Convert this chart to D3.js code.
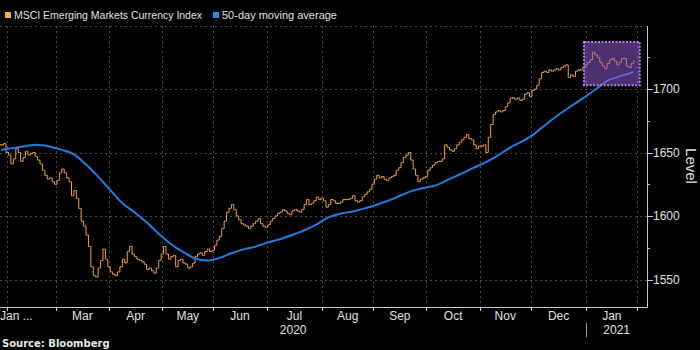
<!DOCTYPE html>
<html><head><meta charset="utf-8">
<script src="https://cdn.jsdelivr.net/npm/d3@7"></script>
<style>html,body{margin:0;padding:0;background:#000;}svg{display:block;}</style>
</head><body>
<svg id="chart" width="700" height="350"></svg>
<script>
// ---- data ----
const firstDay = "2020-01-29";           // first trading day shown
const slotCount = 267;                   // trading-day slots on the axis (through 2021-02-04)
const closes = [
1656,1657,1650,1648,1641,1645,1653,1650,1643,1646,
1651,1648,1649,1650,1647,1644,1641,1636,1632,1629,
1630,1627,1625,1628,1634,1637,1634,1630,1627,1616,
1620,1614,1606,1596,1592,1585,1576,1560,1553,1552,
1559,1565,1574,1566,1560,1556,1554,1553,1556,1560,
1566,1563,1572,1576,1570,1568,1566,1565,1564,1562,
1558,1559,1557,1555,1559,1565,1570,1576,1570,1566,
1568,1569,1560,1565,1566,1563,1562,1559,1560,1563,
1568,1570,1571,1569,1572,1574,1572,1573,1577,1581,
1584,1590,1596,1603,1606,1609,1605,1600,1597,1594,
1593,1592,1590,1592,1594,1596,1598,1594,1592,1591,
1593,1596,1598,1600,1602,1603,1605,1604,1602,1601,
1604,1605,1604,1603,1605,1609,1613,1609,1610,1612,
1615,1613,1614,1612,1607,1609,1613,1612,1610,1610,
1611,1613,1613,1613,1614,1616,1612,1611,1612,1615,
1617,1619,1621,1625,1629,1632,1630,1631,1629,1628,
1630,1631,1632,1636,1638,1642,1646,1648,1650,1644,
1637,1632,1627,1629,1630,1631,1636,1638,1640,1642,
1643,1643,1645,1656,1654,1652,1651,1653,1656,1658,
1660,1662,1664,1661,1660,1656,1653,1655,1655,1656,
1650,1662,1672,1680,1682,1683,1682,1683,1686,1689,
1693,1693,1692,1693,1691,1692,1696,1697,1694,1699,
1700,1703,1708,1713,1714,1713,1715,1714,1715,1716,
1715,1717,1718,1719,1709,1711,1710,1714,1715,1715,
1717,1719,1721,1723,1729,1727,1725,1721,1718,1716,
1720,1723,1724,1722,1719,1721,1724,1724,1718,1717,
1720,1722
];
const maDayIndex = [0,5,10,15,20,25,30,35,40,45,50,55,60,65,70,75,80,85,90,95,100,105,110,115,120,125,130,135,140,145,150,155,160,165,170,175,180,185,190,195,200,205,210,215,220,225,230,235,240,245,250,255,260,261];
const maValues = [1652,1653.6,1655,1656.2,1654.7,1652.1,1648.6,1640.5,1631,1620.4,1610,1603,1595,1586,1578,1571.7,1566.6,1564.9,1567,1570.7,1573.7,1575.9,1579.2,1581.7,1585,1588.7,1593.2,1598.9,1601.9,1603.6,1606,1608.9,1612.3,1616.3,1620,1622.3,1624.5,1629.2,1633.3,1638,1642.4,1647.8,1653.8,1658.8,1664.7,1672.5,1679.7,1686.2,1692.6,1699.2,1706.4,1709.8,1712.8,1713.5];
const yTickValues = [1550,1600,1650,1700];
const yMinorValues = [1575,1625,1675,1725];
const yGridValues = [1550,1600,1650,1700,1750];
const monthNames = ["Jan","Feb","Mar","Apr","May","Jun","Jul","Aug","Sep","Oct","Nov","Dec"];
const firstLabel = "Jan ...";
const seriesNames = ["MSCI Emerging Markets Currency Index","50-day moving average"];
const highlightDays = [241, 264];        // slot range of the highlighted box
const highlightLevels = [1703, 1737];
const sourceText = "Source: Bloomberg";

// ---- build trading days ----
const tradingDays = [];
{ const d = new Date(firstDay + "T00:00:00");
  while (tradingDays.length < slotCount) {
    const wd = d.getDay();
    if (wd !== 0 && wd !== 6) tradingDays.push(new Date(d));
    d.setDate(d.getDate() + 1);
  } }
const boundaries = [];
for (let i = 1; i < tradingDays.length; i++) {
  if (tradingDays[i].getMonth() !== tradingDays[i-1].getMonth()) boundaries.push(i);
}

// ---- layout ----
const W = 700, H = 350;
const plot = {left: 0, right: 647, top: 26, bottom: 307};
const x = d3.scaleLinear().domain([0, slotCount]).range([plot.left, plot.right]);
const y = d3.scaleLinear().domain([1550, 1700]).range([279.5, 89]);

const svg = d3.select("#chart");
svg.append("rect").attr("width", W).attr("height", H).attr("fill", "#000");

const font = "'Liberation Sans', Arial, sans-serif";
const orange = "#f2a03c";
const blue = "#1f7fdf";

// grid
const grid = svg.append("g").attr("stroke", "#4a4a4a").attr("stroke-width", 1).attr("stroke-dasharray", "2,3");
grid.selectAll("line.h").data(yGridValues).join("line")
  .attr("x1", plot.left).attr("x2", plot.right)
  .attr("y1", d => Math.round(y(d)) + 0.5).attr("y2", d => Math.round(y(d)) + 0.5);
grid.selectAll("line.v").data(boundaries).join("line")
  .attr("y1", plot.top).attr("y2", plot.bottom)
  .attr("x1", d => Math.round(x(d)) + 0.5).attr("x2", d => Math.round(x(d)) + 0.5);

// OHLC bars (open = previous close)
const bars = closes.map((c, i) => {
  const o = i === 0 ? c : closes[i-1];
  return {i, o, c, h: Math.max(o, c), l: Math.min(o, c)};
});
const barG = svg.append("g").attr("stroke", orange).attr("stroke-width", 1).attr("fill", "none");
barG.selectAll("path").data(bars).join("path")
  .attr("d", b => {
    const xc = x(b.i + 0.5);
    let yh = y(b.h), yl = y(b.l);
    if (yl - yh < 1.5) { const m = (yh + yl) / 2; yh = m - 0.75; yl = m + 0.75; }
    return `M${xc},${yh}V${yl}M${xc - 1.2},${y(b.o)}H${xc}M${xc},${y(b.c)}H${xc + 1.2}`;
  });

// moving average
const line = d3.line().x(d => x(d[0] + 0.5)).y(d => y(d[1])).curve(d3.curveMonotoneX);
svg.append("path").datum(maDayIndex.map((d, k) => [d, maValues[k]]))
  .attr("d", line).attr("fill", "none").attr("stroke", blue).attr("stroke-width", 2);

// highlight box
svg.append("rect")
  .attr("x", x(highlightDays[0])).attr("width", x(highlightDays[1]) - x(highlightDays[0]))
  .attr("y", y(highlightLevels[1])).attr("height", y(highlightLevels[0]) - y(highlightLevels[1]))
  .attr("fill", "rgba(140,90,200,0.55)")
  .attr("stroke", "#b07ff0").attr("stroke-width", 2).attr("stroke-dasharray", "2,1.5");

// axes lines
const axisColor = "#c8c8c8";
svg.append("line").attr("x1", plot.left).attr("x2", plot.right + 0.5)
  .attr("y1", plot.bottom + 0.5).attr("y2", plot.bottom + 0.5).attr("stroke", axisColor);
svg.append("line").attr("x1", plot.right + 0.5).attr("x2", plot.right + 0.5)
  .attr("y1", plot.top).attr("y2", plot.bottom + 0.5).attr("stroke", axisColor);

// y ticks
svg.selectAll("line.ymaj").data(yTickValues).join("line")
  .attr("x1", plot.right).attr("x2", plot.right + 6)
  .attr("y1", d => Math.round(y(d)) + 0.5).attr("y2", d => Math.round(y(d)) + 0.5).attr("stroke", axisColor);
svg.selectAll("line.ymin").data(yMinorValues.filter(v => y(v) > plot.top)).join("line")
  .attr("x1", plot.right).attr("x2", plot.right + 3)
  .attr("y1", d => Math.round(y(d)) + 0.5).attr("y2", d => Math.round(y(d)) + 0.5).attr("stroke", axisColor);
svg.selectAll("text.ylab").data(yTickValues).join("text")
  .attr("x", 653).attr("y", d => y(d)).attr("dy", "0.36em")
  .attr("font-family", font).attr("font-size", 12).attr("fill", "#e0e0e0")
  .text(d => d);
svg.append("text").attr("transform", "translate(686,166) rotate(90)")
  .attr("text-anchor", "middle").attr("font-family", font).attr("font-size", 15).attr("fill", "#e0e0e0")
  .text("Level");

// x ticks
svg.selectAll("line.xt").data(boundaries).join("line")
  .attr("x1", d => Math.round(x(d)) + 0.5).attr("x2", d => Math.round(x(d)) + 0.5)
  .attr("y1", plot.bottom).attr("y2", plot.bottom + 4).attr("stroke", axisColor);

// month labels
const monthLabelData = [{text: firstLabel, x: 0, anchor: "start"}];
for (let k = 1; k + 1 < boundaries.length; k++) {
  const a = boundaries[k], b = boundaries[k+1];
  monthLabelData.push({text: monthNames[tradingDays[a].getMonth()], x: x((a + b) / 2), anchor: "middle"});
}
svg.selectAll("text.mon").data(monthLabelData).join("text")
  .attr("x", d => d.x).attr("y", 320).attr("text-anchor", d => d.anchor)
  .attr("font-family", font).attr("font-size", 12).attr("fill", "#e0e0e0").text(d => d.text);

// year labels
const yearStart = boundaries.find(i => tradingDays[i].getMonth() === 0);
const yearData = [
  {text: String(tradingDays[0].getFullYear()), x: x(yearStart / 2)},
  {text: String(tradingDays[yearStart].getFullYear()), x: x((yearStart + slotCount) / 2)}
];
svg.selectAll("text.yr").data(yearData).join("text")
  .attr("x", d => d.x).attr("y", 334).attr("text-anchor", "middle")
  .attr("font-family", font).attr("font-size", 12).attr("fill", "#e0e0e0").text(d => d.text);
svg.append("line").attr("x1", Math.round(x(yearStart)) + 0.5).attr("x2", Math.round(x(yearStart)) + 0.5)
  .attr("y1", 323).attr("y2", 337).attr("stroke", "#999");

// legend
const legendX = [5, 213];
const legendWidths = [188, 115];
const lg = svg.append("g");
seriesNames.forEach((name, k) => {
  lg.append("rect").attr("x", legendX[k]).attr("y", 12).attr("width", 6).attr("height", 6).attr("fill", k === 0 ? "#f5aa50" : "#2a8ae8");
  lg.append("text").attr("x", legendX[k] + 9).attr("y", 19)
    .attr("font-family", font).attr("font-size", 11).attr("fill", "#e0e0e0")
    .attr("textLength", legendWidths[k]).attr("lengthAdjust", "spacingAndGlyphs").text(name);
});

// source
svg.append("text").attr("x", 2).attr("y", 347)
  .attr("font-family", "'DejaVu Sans', sans-serif").attr("font-weight", "bold").attr("font-size", 10)
  .attr("fill", "#e8e8e8").text(sourceText);
</script>
</body></html>
